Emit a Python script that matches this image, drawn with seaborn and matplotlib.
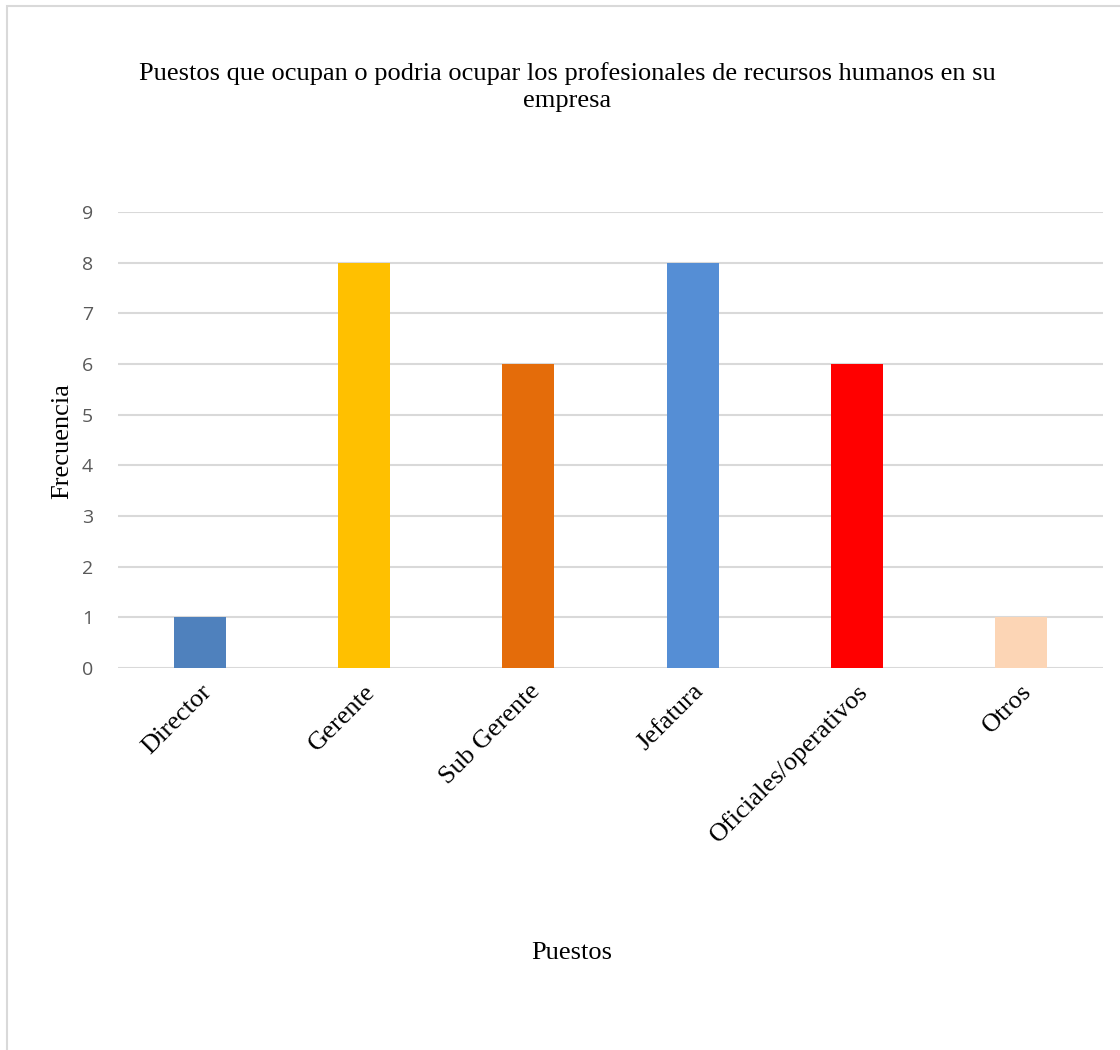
import matplotlib
matplotlib.use("Agg")
import matplotlib.pyplot as plt
import seaborn as sns
import pandas as pd
from matplotlib.patches import Rectangle

categories = ["Director", "Gerente", "Sub Gerente", "Jefatura", "Oficiales/operativos", "Otros"]
values = [1, 8, 6, 8, 6, 1]
colors = ["#4F81BD", "#FFC000", "#E46C0A", "#558ED5", "#FF0000", "#FCD5B5"]
yticks = list(range(0, 10))

title = "Puestos que ocupan o podria ocupar los profesionales de recursos humanos en su\nempresa"
xlabel = "Puestos"
ylabel = "Frecuencia"

sns.set_theme(style="white")
serif = ["Liberation Serif", "DejaVu Serif"]
sans = ["Open Sans", "DejaVu Sans"]

df = pd.DataFrame({"Puesto": categories, "Frecuencia": values})

W, H = 1120, 1050
fig = plt.figure(figsize=(W / 100, H / 100), dpi=100)
ax = fig.add_axes([118 / W, 1 - 668 / H, (1103 - 118) / W, (668 - 212) / H])

sns.barplot(data=df, x="Puesto", y="Frecuencia", hue="Puesto", palette=colors,
            legend=False, width=0.317, ax=ax, saturation=1, linewidth=0)

ax.set_ylim(0, 9)
ax.set_xlim(-0.5, len(categories) - 0.5)
ax.set_yticks(yticks)
ax.set_yticklabels([str(t) for t in yticks], family=sans, fontsize=14, color="#595959")
ax.yaxis.grid(True, color="#D9D9D9", linewidth=1.5)
ax.set_axisbelow(True)
for s in ax.spines.values():
    s.set_visible(False)
ax.tick_params(axis="y", length=0, pad=18)
ax.tick_params(axis="x", length=0, pad=9)
ax.set_xticks(range(len(categories)))
ax.set_xticklabels(categories, rotation=45, ha="right", va="top", rotation_mode="anchor",
                   family=serif, fontsize=19, color="black")
ax.set_xlabel("")
ax.set_ylabel("")

fig.text(567 / W, 1 - 87 / H, title, ha="center", va="center", family=serif,
         fontsize=19, color="black", linespacing=1.3)
fig.text(572 / W, 1 - 953 / H, xlabel, ha="center", va="center", family=serif,
         fontsize=19, color="black")
fig.text(62 / W, 1 - 441 / H, ylabel, ha="center", va="center", rotation=90,
         family=serif, fontsize=19, color="black")

fig.patches.append(Rectangle((7 / W, -0.05), 1.2, 1 - 6 / H + 0.05, transform=fig.transFigure,
                             fill=False, edgecolor="#D9D9D9", linewidth=1.5))

fig.savefig("out.png", dpi=100)
